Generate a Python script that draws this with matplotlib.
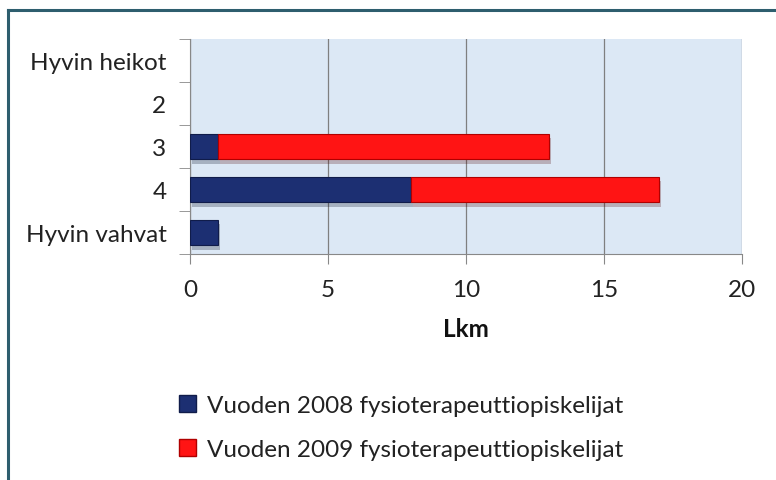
import numpy as np
import matplotlib
matplotlib.use("Agg")
import matplotlib.pyplot as plt
import matplotlib.patheffects as pe
from matplotlib.lines import Line2D

# Chart data
categories = ["Hyvin heikot", "2", "3", "4", "Hyvin vahvat"]
vals_2008 = [0, 0, 1, 8, 1]
vals_2009 = [0, 0, 12, 9, 0]
series_labels = ["Vuoden 2008 fysioterapeuttiopiskelijat",
                 "Vuoden 2009 fysioterapeuttiopiskelijat"]
xticks = [0, 5, 10, 15, 20]

plt.rcParams['font.family'] = ['Lato', 'DejaVu Sans']
FS = 17.5

W, H = 776, 481
fig = plt.figure(figsize=(W / 100, H / 100), dpi=100)
ax = fig.add_axes([190 / W, 1 - 255 / H, (742 - 190) / W, (255 - 40) / H])

ypos = np.arange(len(categories))[::-1]
shadow = [pe.SimplePatchShadow(offset=(1.5, -3), alpha=0.25), pe.Normal()]

b1 = ax.barh(ypos, vals_2008, height=0.6, color="#1c2f72", edgecolor="#101c4a",
             linewidth=0.8, zorder=3)
b2 = ax.barh(ypos, vals_2009, left=vals_2008, height=0.6, color="#ff1414",
             edgecolor="#b00000", linewidth=0.8, zorder=3)
for bars in (b1, b2):
    for r in bars:
        if r.get_width() > 0:
            r.set_path_effects(shadow)
        else:
            r.set_visible(False)

ax.set_xlim(0, 20)
ax.set_ylim(-0.5, len(categories) - 0.5)
ax.set_facecolor("#dce8f5")

ax.set_xticks(xticks)
ax.set_xticklabels([str(t) for t in xticks], fontsize=FS, color="#222222")
ax.set_yticks(ypos)
ax.set_yticklabels(categories, fontsize=FS, color="#222222")
ax.set_yticks(np.arange(-0.5, len(categories), 1), minor=True)
ax.tick_params(axis="y", which="major", length=0, pad=17)
ax.tick_params(axis="y", which="minor", length=8, color="#888888")
ax.tick_params(axis="x", which="major", length=7, color="#888888", pad=11)

ax.grid(axis="x", color="#7f7f7f", linewidth=0.9, zorder=1)
ax.set_axisbelow(True)
for s in ["top", "right"]:
    ax.spines[s].set_visible(False)
ax.spines["left"].set_color("#888888")
ax.spines["bottom"].set_color("#888888")

ax.set_xlabel("Lkm", fontsize=FS, fontweight="bold", labelpad=12, color="#111111")

handles = [plt.Rectangle((0, 0), 1, 1, facecolor="#1c2f72", edgecolor="#101c4a"),
           plt.Rectangle((0, 0), 1, 1, facecolor="#ff1414", edgecolor="#b00000")]
fig.legend(handles, series_labels, loc="upper left",
           bbox_to_anchor=(157 / W, 1 - 374 / H), frameon=False, fontsize=FS,
           handlelength=0.7, handleheight=0.7, handletextpad=0.45,
           labelspacing=0.95, labelcolor="#222222")

# outer frame (top and left edges)
fig.add_artist(Line2D([8 / W, 1], [1 - 11 / H, 1 - 11 / H], color="#2e5e6e", linewidth=2.2))
fig.add_artist(Line2D([8 / W, 8 / W], [0, 1 - 11 / H], color="#2e5e6e", linewidth=2.2))

fig.savefig("out.png", dpi=100)
